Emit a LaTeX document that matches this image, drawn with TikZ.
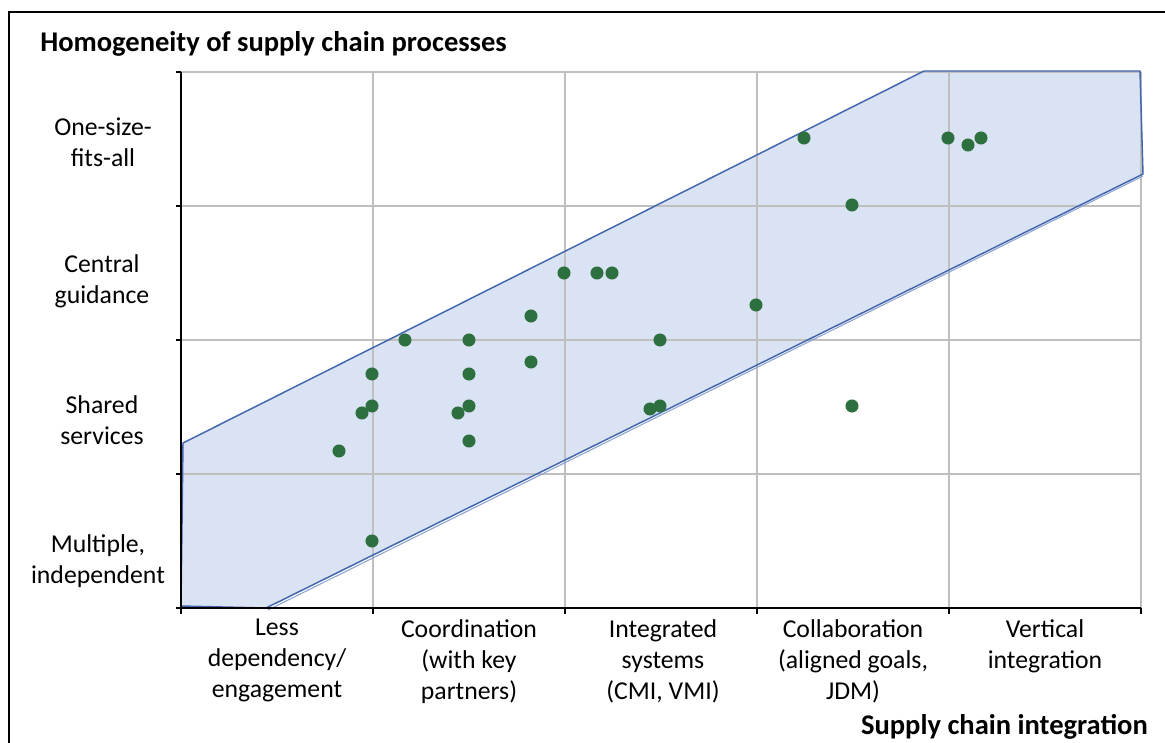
\documentclass[tikz,border=0pt]{standalone}
\usepackage{fontspec}
\setmainfont{Carlito}
\usepackage{tikz}
\definecolor{bandfill}{HTML}{DAE3F3}
\definecolor{bandline}{HTML}{4266AE}
\definecolor{dotgreen}{HTML}{2E6F40}
\definecolor{gridgray}{HTML}{BFBFBF}
\tikzset{
    lab/.style={align=center, font=\fontsize{19.3}{23.2}\selectfont, inner sep=0pt},
    heading/.style={font=\fontsize{21.4}{25}\selectfont\bfseries, inner sep=0pt},
    dot/.style={circle, fill=dotgreen, inner sep=0pt, minimum size=9.8pt},
}
\begin{document}
\begin{tikzpicture}[x=0.75pt, y=-0.75pt]
\useasboundingbox (0,0) rectangle (1165,743);
\fill[white] (0,0) rectangle (1165,743);
% frame
\draw[line width=1.4pt] (9,760)--(9,12)--(1180,12);
% band
\fill[bandfill] (181,606)--(183,443)--(924,71)--(1140,71)--(1143,174)--(266,608)--cycle;
% grid
\foreach \x in {373,565,757,949,1141} \draw[gridgray, line width=0.8pt] (\x,72)--(\x,608);
\foreach \y in {72,206,340,474} \draw[gridgray, line width=0.8pt] (181,\y)--(1141,\y);
\draw[bandline!60, line width=0.8pt] (1143,176)--(268,610);
\draw[bandline, line width=1.1pt] (181,606)--(183,443)--(924,71)--(1140,71)--(1143,174)--(266,608)--cycle;
% axes
\draw[line width=0.8pt] (181,72)--(181,608)--(1141,608);
\foreach \y in {72,206,340,474,608} \draw[line width=0.8pt] (176,\y)--(181,\y);
\foreach \x in {181,373,565,757,949,1141} \draw[line width=0.8pt] (\x,608)--(\x,614);
% data
\foreach \px/\py [count=\i] in {804/138, 948/138, 968/145, 981/138, 852/205,
    564/273, 597/273, 612/273, 756/305, 531/316, 405/340, 469/340, 660/340,
    531/362, 372/374, 469/374, 372/406, 362/413, 458/413, 469/406, 650/409,
    660/406, 852/406, 469/441, 339/451, 372/541}
    \node[dot] (p\i) at (\px,\py) {};
% labels
\node[heading, anchor=west] (ytitle) at (40,44) {Homogeneity of supply chain processes};
\node[heading, anchor=east] (xtitle) at (1148,727) {Supply chain integration};
\node[lab] (one) at (103,142) {One-size-\\fits-all};
\node[lab] (central) at (102,281) {Central\\guidance};
\node[lab] (shared) at (102,420) {Shared\\services};
\node[lab] (multi) at (98,561) {Multiple,\\independent};
\node[lab, anchor=north] (less) at (277,619) {Less\\dependency/\\engagement};
\node[lab, anchor=north] (coord) at (469,619) {Coordination\\(with key\\partners)};
\node[lab, anchor=north] (integ) at (663,619) {Integrated\\systems\\(CMI, VMI)};
\node[lab, anchor=north] (collab) at (853,619) {Collaboration\\(aligned goals,\\JDM)};
\node[lab, anchor=north] (vert) at (1045,619) {Vertical\\integration};
\end{tikzpicture}
\end{document}
